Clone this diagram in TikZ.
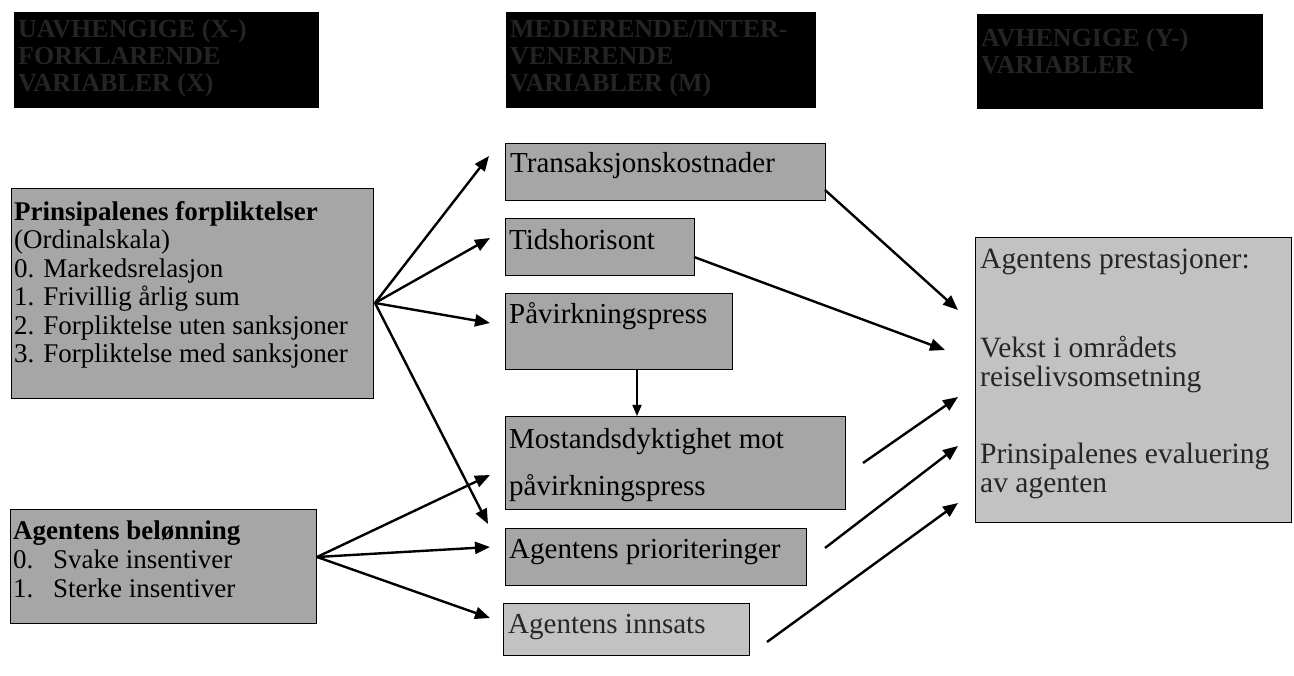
\documentclass[tikz,border=0pt]{standalone}
\usepackage{fontspec}
\setmainfont{Liberation Serif}
\usetikzlibrary{arrows.meta}
\tikzset{
  box/.style={draw=black, line width=1.4pt, fill=black!35, anchor=north west, inner sep=0pt},
  lbox/.style={box, fill=black!24},
  hbox/.style={draw=black, line width=1pt, fill=black, anchor=north west, inner sep=0pt},
  txt/.style={anchor=base west, inner sep=0pt, align=left},
  ltxt/.style={txt, font=\fontsize{27}{28.6}\selectfont},
  mtxt/.style={txt, font=\fontsize{29}{30}\selectfont},
  rtxt/.style={txt, font=\fontsize{29.5}{29}\selectfont, text=black!85},
  htxt/.style={txt, font=\fontsize{26}{27}\selectfont\bfseries, text=black!86},
  conn/.style={line width=2.4pt, -{Triangle[length=15pt,width=12pt]}},
  pconn/.style={line width=1.6pt, -{Triangle[length=11pt,width=9pt]}},
}
\begin{document}
\begin{tikzpicture}[x=1pt,y=-1pt]
\useasboundingbox (0,0) rectangle (1294,676);
\fill[white] (0,0) rectangle (1294,676);

% header boxes (last-line baselines given)
\node[hbox, minimum width=304pt, minimum height=95pt] (h1) at (14,12) {};
\node[hbox, minimum width=309pt, minimum height=95pt] (h2) at (506,12) {};
\node[hbox, minimum width=285pt, minimum height=94pt] (h3) at (977,14) {};
\node[htxt] (h1t) at (18,92) {UAVHENGIGE (X-)\\FORKLARENDE\\VARIABLER (X)};
\node[htxt] (h2t) at (510,92) {MEDIERENDE/INTER-\\VENERENDE\\VARIABLER (M)};
\node[htxt] (h3t) at (981,74) {AVHENGIGE (Y-)\\VARIABLER};

% left boxes
\node[box, minimum width=362pt, minimum height=210pt] (b1) at (11,188) {};
\node[ltxt] (b1t) at (14,363) {\textbf{Prinsipalenes forpliktelser}\\(Ordinalskala)\\0. Markedsrelasjon\\1. Frivillig årlig sum\\2. Forpliktelse uten sanksjoner\\3. Forpliktelse med sanksjoner};

\node[box, minimum width=306pt, minimum height=114pt] (b2) at (10,509) {};
\node[ltxt] (b2t) at (13,597) {\textbf{Agentens belønning}\\\makebox[40pt][l]{0.}Svake insentiver\\\makebox[40pt][l]{1.}Sterke insentiver};

% middle boxes
\node[box, minimum width=320pt, minimum height=57pt] (m1) at (505,143) {};
\node[mtxt] (m1t) at (510,173) {Transaksjonskostnader};
\node[box, minimum width=189pt, minimum height=57pt] (m2) at (505,218) {};
\node[mtxt] (m2t) at (509,250) {Tidshorisont};
\node[box, minimum width=227pt, minimum height=76pt] (m3) at (505,293) {};
\node[mtxt] (m3t) at (509,324) {Påvirkningspress};
\node[box, minimum width=340pt, minimum height=93pt] (m4) at (505,416) {};
\node[mtxt] (m4t) at (509,448) {Mostandsdyktighet mot};
\node[mtxt] (m4u) at (509,495) {påvirkningspress};
\node[box, minimum width=301pt, minimum height=57pt] (m5) at (505,528) {};
\node[mtxt] (m5t) at (509,558) {Agentens prioriteringer};
\node[lbox, minimum width=246pt, minimum height=52pt] (m6) at (503,603) {};
\node[mtxt, text=black!85] (m6t) at (508,633) {Agentens innsats};

% right box
\node[lbox, minimum width=316pt, minimum height=285pt] (r) at (975,237) {};
\node[rtxt] (rt1) at (980,269) {Agentens prestasjoner:};
\node[rtxt] (rt2) at (980,387) {Vekst i områdets\\reiselivsomsetning};
\node[rtxt] (rt3) at (980,492) {Prinsipalenes evaluering\\av agenten};

% connector coordinates
\coordinate (o1) at (375,303);
\coordinate (o2) at (317,557);
\coordinate (e1) at (489,156);
\coordinate (e2) at (490,238);
\coordinate (e3) at (490,323);
\coordinate (e4) at (488,524);
\coordinate (e5) at (490,475);
\coordinate (e6) at (490,547);
\coordinate (e7) at (490,618);
\coordinate (s1) at (825,190);
\coordinate (s2) at (694,257);
\coordinate (s3) at (863,463);
\coordinate (s4) at (825,548);
\coordinate (s5) at (767,642);
\coordinate (f1) at (958,310);
\coordinate (f2) at (945,350);
\coordinate (f3) at (958,397);
\coordinate (f4) at (958,446);
\coordinate (f5) at (958,503);
\coordinate (px) at (637,0);

\draw[conn] (o1) -- (e1);
\draw[conn] (o1) -- (e2);
\draw[conn] (o1) -- (e3);
\draw[conn] (o1) -- (e4);
\draw[conn] (o2) -- (e5);
\draw[conn] (o2) -- (e6);
\draw[conn] (o2) -- (e7);
\draw[conn] (s1) -- (f1);
\draw[conn] (s2) -- (f2);
\draw[conn] (s3) -- (f3);
\draw[conn] (s4) -- (f4);
\draw[conn] (s5) -- (f5);
\draw[pconn] (m3.south -| px) -- (m4.north -| px);
\end{tikzpicture}
\end{document}
